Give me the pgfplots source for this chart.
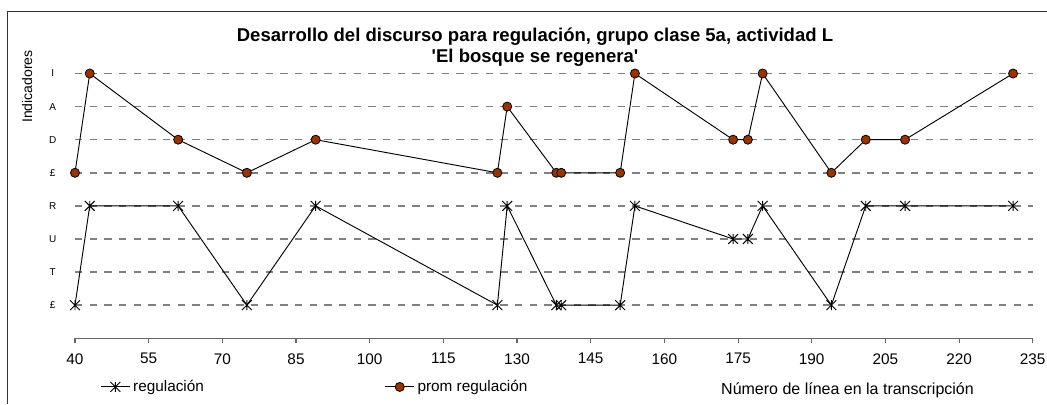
\documentclass[border=0pt]{standalone}
\usepackage{pgfplots}
\pgfplotsset{compat=1.18}
\usepackage{fontspec}
\setmainfont{Liberation Sans}
\definecolor{markbrown}{RGB}{153,51,0}
\definecolor{gridgray}{RGB}{128,128,128}
\pgfdeclareplotmark{xstar}{%
 \pgfpathmoveto{\pgfqpoint{0pt}{\pgfplotmarksize}}%
 \pgfpathlineto{\pgfqpoint{0pt}{-\pgfplotmarksize}}%
 \pgfpathmoveto{\pgfqpoint{-\pgfplotmarksize}{\pgfplotmarksize}}%
 \pgfpathlineto{\pgfqpoint{\pgfplotmarksize}{-\pgfplotmarksize}}%
 \pgfpathmoveto{\pgfqpoint{-\pgfplotmarksize}{-\pgfplotmarksize}}%
 \pgfpathlineto{\pgfqpoint{\pgfplotmarksize}{\pgfplotmarksize}}%
 \pgfusepathqstroke}
\begin{document}
\begin{tikzpicture}[x=0.75pt,y=0.75pt]
\useasboundingbox (0,0) rectangle (1047,404);
\draw[black!80, line width=1.2pt] (7.5,0) -- (7.5,392.5) -- (1047,392.5);
\node[align=center, font=\bfseries\fontsize{13.9}{15.4}\selectfont] at (535,357)
  {Desarrollo del discurso para regulación, grupo clase 5a, actividad L\\\textquotesingle El bosque se regenera\textquotesingle};
\begin{axis}[
  at={(56.25pt,49.3pt)}, anchor=south west,
  scale only axis, width=718.3pt, height=223.4pt,
  xmin=40, xmax=235, ymin=0, ymax=9,
  clip=false,
  xtick={40,55,...,235},
  ytick={1,...,8},
  yticklabels={£,T,U,R,£,D,A,I},
  axis x line*=bottom, axis y line*=left,
  x axis line style={-, black!60, line width=0.8pt},
  y axis line style={draw=none},
  ytick style={draw=none},
  xtick style={black!60, line width=0.8pt},
  tick align=outside, major tick length=3.75pt,
  ymajorgrids,
  grid style={gridgray, line width=1.1pt, dash pattern=on 5.5pt off 5.5pt},
  /pgf/number format/assume math mode=true,
  xticklabel style={font=\fontsize{11.5}{13}\selectfont, yshift=-4pt},
  yticklabel style={font=\fontsize{7.5}{8}\selectfont, anchor=center, xshift=-13pt},
  xlabel={Número de línea en la transcripción},
  xlabel style={at={(axis description cs:0.8066,0)}, anchor=center, yshift=-38.8pt, font=\fontsize{12}{14}\selectfont},
  ylabel={Indicadores},
  ylabel style={at={(axis description cs:0,0.845)}, anchor=center, yshift=36pt, font=\fontsize{10.5}{12}\selectfont},
  legend columns=2,
  legend style={at={(axis description cs:0.0261,-0.1634)}, anchor=west, draw=none, fill=none, inner sep=0pt,
    font=\fontsize{11.5}{13}\selectfont, /tikz/column 2/.style={column sep=133.5pt}},
  legend image code/.code={\draw[mark repeat=2,mark phase=2] plot coordinates {(0pt,0pt)(11pt,0pt)(22pt,0pt)};},
]
\addplot[black, line width=0.7pt, mark=xstar, mark size=3.7pt, mark options={solid, line width=0.7pt}]
 coordinates {(40,1)(43,4)(61,4)(75,1)(89,4)(126,1)(128,4)(138,1)(139,1)(151,1)(154,4)(174,3)(177,3)(180,4)(194,1)(201,4)(209,4)(231,4)};
\addlegendentry{regulación}
\addplot[black, line width=0.7pt, mark=*, mark size=3.4pt, mark options={solid, fill=markbrown, draw=black, line width=0.6pt}]
 coordinates {(40,5)(43,8)(61,6)(75,5)(89,6)(126,5)(128,7)(138,5)(139,5)(151,5)(154,8)(174,6)(177,6)(180,8)(194,5)(201,6)(209,6)(231,8)};
\addlegendentry{prom regulación}
\end{axis}
\end{tikzpicture}
\end{document}
